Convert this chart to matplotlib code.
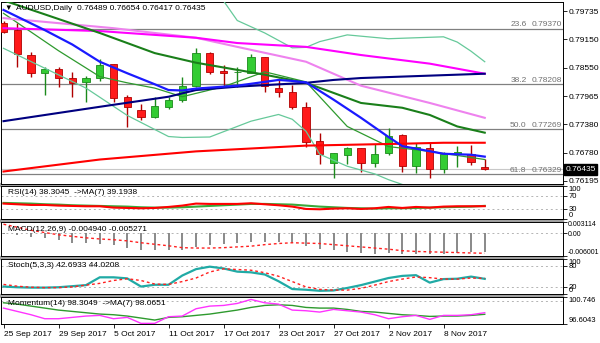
import numpy as np
import matplotlib
matplotlib.use('Agg')
import matplotlib.pyplot as plt
from matplotlib.patches import Rectangle
from matplotlib.transforms import blended_transform_factory

plt.rcParams['font.family'] = ['Liberation Sans', 'DejaVu Sans']

# daily candles, 25 Sep 2017 .. 13 Nov 2017
dates = ['25 Sep 2017', '29 Sep 2017', '5 Oct 2017', '11 Oct 2017', '17 Oct 2017',
         '23 Oct 2017', '27 Oct 2017', '2 Nov 2017', '8 Nov 2017']
opens = [0.79489, 0.79343, 0.78823, 0.78449, 0.78532, 0.78345, 0.78262, 0.78345, 0.78636, 0.77950,
         0.77679, 0.77534, 0.77742, 0.77887, 0.78179, 0.78865, 0.78491, 0.78459, 0.78449, 0.78782,
         0.78137, 0.78054, 0.77742, 0.77034, 0.76577, 0.76743, 0.76889, 0.76577, 0.76785, 0.77159,
         0.76514, 0.76889, 0.76452, 0.76764, 0.76764, 0.76489]
highs = [0.79531, 0.79489, 0.78886, 0.78574, 0.78574, 0.78470, 0.78387, 0.78740, 0.78636, 0.77991,
         0.77804, 0.77950, 0.77950, 0.78366, 0.78969, 0.78886, 0.78615, 0.78574, 0.78844, 0.78782,
         0.78345, 0.78199, 0.77846, 0.77201, 0.76785, 0.76909, 0.76889, 0.76972, 0.77305, 0.77180,
         0.76993, 0.77013, 0.76805, 0.76930, 0.76951, 0.76654]
lows = [0.79281, 0.78574, 0.78366, 0.77991, 0.78158, 0.77950, 0.77846, 0.78283, 0.77846, 0.77326,
        0.77471, 0.77513, 0.77700, 0.77846, 0.78158, 0.78428, 0.78158, 0.78158, 0.78449, 0.78054,
        0.77950, 0.77700, 0.76909, 0.76556, 0.76264, 0.76556, 0.76389, 0.76493, 0.76743, 0.76389,
        0.76368, 0.76264, 0.76368, 0.76493, 0.76535, 0.76417]
closes = [0.79302, 0.78844, 0.78449, 0.78532, 0.78345, 0.78241, 0.78345, 0.78615, 0.77929, 0.77742,
          0.77534, 0.77763, 0.77887, 0.78179, 0.78865, 0.78470, 0.78449, 0.78470, 0.78782, 0.78179,
          0.78054, 0.77742, 0.77013, 0.76764, 0.76785, 0.76889, 0.76577, 0.76764, 0.77138, 0.76514,
          0.76909, 0.76452, 0.76764, 0.76805, 0.76597, 0.76435]

# moving averages / bands read at some bars
blue_bars = [0, 3, 5, 7, 9, 11, 12, 13, 14, 17, 19, 20, 21, 22, 24, 26, 28, 29, 32, 34, 35]
blue_vals = [0.7976, 0.7934, 0.7904, 0.7868, 0.7844, 0.7821, 0.7809, 0.7808, 0.7812, 0.7818, 0.7826,
             0.7830, 0.7828, 0.7825, 0.7789, 0.7751, 0.7711, 0.7692, 0.7676, 0.7674, 0.7670]
navy_bars = [0, 7, 12, 14, 17, 22, 24, 26, 29, 35]
navy_vals = [0.7744, 0.7774, 0.7795, 0.7809, 0.7816, 0.7824, 0.7830, 0.7834, 0.7837, 0.7843]
magenta_bars = [0, 7, 14, 17, 22, 26, 31, 35]
magenta_vals = [0.7938, 0.7932, 0.7918, 0.7907, 0.7899, 0.7882, 0.7864, 0.7843]
pink_bars = [0, 8, 14, 17, 22, 26, 31, 35]
pink_vals = [0.7959, 0.7938, 0.7918, 0.7899, 0.7868, 0.7818, 0.7782, 0.7751]
dgreen_bars = [0, 7, 11, 14, 19, 22, 24, 26, 29, 31, 33, 35]
dgreen_vals = [0.7996, 0.7928, 0.7886, 0.7866, 0.7841, 0.7824, 0.7803, 0.7782, 0.7772, 0.7757, 0.7733, 0.7720]
green_bars = [0, 4, 7, 9, 11, 13, 16, 19, 22, 25, 28, 31, 35]
green_vals = [0.7969, 0.7891, 0.7837, 0.7824, 0.7813, 0.7795, 0.7816, 0.7847, 0.7826, 0.7733, 0.7691, 0.7681, 0.7664]
bbup_bars = [16, 17, 19, 21, 22, 23, 25, 28, 32, 33, 34, 35]
bbup_vals = [0.7995, 0.7954, 0.7928, 0.7897, 0.7898, 0.7910, 0.7924, 0.7916, 0.7920, 0.7909, 0.7890, 0.7868]
bblo_bars = [0, 6, 9, 12, 13, 15, 18, 20, 21, 22, 23, 25, 27, 28, 29]
bblo_vals = [0.7896, 0.7813, 0.7756, 0.7712, 0.7710, 0.7711, 0.7744, 0.7758, 0.7748, 0.7723, 0.7675,
             0.7650, 0.7634, 0.7622, 0.7612]
red_bars = [0, 7, 14, 22, 29, 32, 35]
red_vals = [0.7639, 0.7664, 0.7681, 0.7693, 0.7697, 0.7699, 0.7699]

fib_levels = [0.79370, 0.78208, 0.77269, 0.76329]
fib_names = ['23.6', '38.2', '50.0', '61.8']
price_ticks = [0.79735, 0.79150, 0.78550, 0.77965, 0.77380, 0.76780, 0.76195]
bid = 0.76435

rsi = [46, 44, 42, 42, 40, 39, 38, 38, 34, 33, 32, 33, 36, 40, 46, 45, 45, 45, 47, 44,
       41, 37, 30, 29, 31, 32, 30, 32, 36, 33, 36, 34, 37, 38, 38, 38.3045]
rsi_ma = [48, 47, 46, 44, 43, 41, 40, 39, 38, 37, 35, 34, 34, 35, 37, 39, 41, 43, 45, 45,
          44, 43, 40, 37, 35, 33, 32, 31, 32, 32, 33, 34, 35, 36, 37, 39.1938]
macd = [-0.0002, -0.0005, -0.0009, -0.0012, -0.0019, -0.0025, -0.0025, -0.0028, -0.0030, -0.0038,
        -0.0043, -0.0045, -0.0043, -0.0043, -0.0035, -0.0030, -0.0028, -0.0025, -0.0022, -0.0022,
        -0.0024, -0.0026, -0.0033, -0.0042, -0.0045, -0.0050, -0.0052, -0.0054, -0.0052, -0.0054,
        -0.0054, -0.0054, -0.0054, -0.0051, -0.0050, -0.004940]
macd_sig = [0.0024, 0.0016, 0.0008, 0.0002, -0.0004, -0.0008, -0.0012, -0.0015, -0.0017, -0.0020,
            -0.0025, -0.0029, -0.0033, -0.0038, -0.0039, -0.0039, -0.0038, -0.0036, -0.0034, -0.0030,
            -0.0027, -0.0025, -0.0026, -0.0027, -0.0030, -0.0033, -0.0036, -0.0039, -0.0042, -0.0046,
            -0.0048, -0.0049, -0.0050, -0.0051, -0.0052, -0.005271]
stoch = [21, 19, 18, 18, 19, 22, 25, 47, 47, 44, 21, 26, 26, 52, 70, 77, 72, 63, 61, 55,
         36, 14, 12, 9, 10, 17, 25, 35, 45, 51, 53, 32, 42, 43, 49, 42.6933]
stoch_sig = [27, 22, 19, 18, 18, 20, 25, 30, 38, 43, 38, 28, 27, 35, 45, 62, 71, 69, 67, 60,
             50, 35, 20, 13, 11, 11, 16, 25, 35, 42, 48, 46, 42, 42, 45, 44.0208]
mom = [99.0, 98.5, 98.0, 97.4, 97.4, 97.6, 97.8, 97.9, 97.4, 97.6, 96.7, 96.7, 97.7, 97.8, 98.9,
       99.3, 99.4, 99.7, 100.3, 99.8, 99.6, 98.7, 98.6, 98.4, 98.8, 98.6, 98.4, 98.0, 97.4, 97.7,
       97.9, 97.3, 97.9, 97.9, 98.0, 98.3049]
mom_ma = [99.8, 99.6, 99.3, 99.0, 98.7, 98.5, 98.3, 98.1, 98.0, 97.8, 97.5, 97.2, 97.6, 97.7, 97.9,
          98.1, 98.4, 98.7, 99.1, 99.4, 99.5, 99.4, 99.1, 99.0, 99.0, 98.8, 98.5, 98.4, 98.2, 98.0,
          97.9, 97.75, 97.8, 97.8, 97.9, 98.0651]

W, H = 600, 343
fig = plt.figure(figsize=(6, 3.43), dpi=100)
LEFT, RIGHT = 1, 563
XMIN, XMAX = (LEFT - 3.5) / 13.75, (RIGHT - 3.5) / 13.75


def panel(top, bottom, size=6):
    ax = fig.add_axes([LEFT / W, 1 - bottom / H, (RIGHT - LEFT) / W, (bottom - top) / H])
    ax.set_xlim(XMIN, XMAX)
    ax.set_xticks([])
    ax.yaxis.tick_right()
    ax.tick_params(axis='y', length=3, width=0.6, labelsize=size, pad=1)
    for s in ax.spines.values():
        s.set_linewidth(0.7)
    return ax


def edge_labels_inside(a):
    # first (top) and last (bottom) scale labels sit inside the window
    labs = a.get_yticklabels()
    labs[0].set_va('top')
    labs[-1].set_va('bottom')


# gray separators between the windows
for y0, y1 in [(183, 185.5), (219, 221.5), (256, 258.5), (294, 296.5)]:
    fig.add_artist(Rectangle((0, 1 - y1 / H), RIGHT / W, (y1 - y0) / H,
                             transform=fig.transFigure, color='#a0a0a0', zorder=-1))

# ---- main price window
ax = panel(2, 183.5)
ax.set_ylim(0.76140, 0.79926)
x = np.arange(len(opens))
o, h, l, c = map(np.array, (opens, highs, lows, closes))
up = c >= o
fill = np.where(up, '#33cc33', '#ff1a1a')
edge = np.where(up, '#1b8a1b', '#b00000')
ax.vlines(x, l, h, colors=edge, lw=1, zorder=2)
ax.bar(x, np.maximum(np.abs(c - o), 0.00004), bottom=np.minimum(o, c), width=0.52,
       color=fill, edgecolor=edge, linewidth=0.6, zorder=3)

ax.plot(bblo_bars, bblo_vals, color='#66c99a', lw=0.9, zorder=4)
ax.plot(bbup_bars, bbup_vals, color='#66c99a', lw=0.9, zorder=4)
ax.plot(green_bars, green_vals, color='#2e9a2e', lw=0.9, zorder=4)
ax.plot(red_bars, red_vals, color='#ff0000', lw=1.5, zorder=4)
ax.plot(pink_bars, pink_vals, color='#ee82ee', lw=1.5, zorder=4)
ax.plot(magenta_bars, magenta_vals, color='#ff00ff', lw=1.5, zorder=4)
ax.plot(dgreen_bars, dgreen_vals, color='#1a7f1a', lw=1.5, zorder=4)
ax.plot(navy_bars, navy_vals, color='#000080', lw=1.5, zorder=5)
ax.plot(blue_bars, blue_vals, color='#1a1aff', lw=1.6, zorder=5)

trans = blended_transform_factory(ax.transAxes, ax.transData)
for lev, name in zip(fib_levels, fib_names):
    ax.axhline(lev, color='#808080', lw=0.9, zorder=1)
    ax.text(0.998, lev + 0.0001, '%.5f' % lev, transform=trans, ha='right', va='bottom',
            fontsize=6, color='#707070')
    ax.text(0.935, lev + 0.0001, name, transform=trans, ha='right', va='bottom',
            fontsize=6, color='#707070')
ax.axhline(bid, color='#c8c8c8', lw=0.8, zorder=1)
ax.set_yticks(price_ticks)
ax.set_yticklabels(['%.5f' % t for t in price_ticks])
ax.text(1.004, bid, '%.5f' % bid, transform=trans, ha='left', va='center', fontsize=6,
        color='white', bbox=dict(boxstyle='square,pad=0.2', fc='black', ec='black'), clip_on=False)
fig.text(4 / W, 1 - 8 / H, '\u25bc', fontsize=5.5, va='center', ha='left')
fig.text(16 / W, 1 - 8 / H, 'AUDUSD,Daily  0.76489 0.76654 0.76417 0.76435', fontsize=6,
         va='center', ha='left')

dot = dict(color='#b4b4b4', lw=0.7, ls=(0, (2, 3)))

# ---- RSI
ax_rsi = panel(185.5, 219, 5.5)
ax_rsi.set_ylim(0, 100)
for lev in (70, 30):
    ax_rsi.axhline(lev, **dot)
ax_rsi.plot(x, rsi_ma, color='#3aa83a', lw=1.5)
ax_rsi.plot(x, rsi, color='#ff0000', lw=1.5)
ax_rsi.set_yticks([100, 70, 30, 0])
edge_labels_inside(ax_rsi)
ax_rsi.text(0.012, 0.78, 'RSI(14) 38.3045  ->MA(7) 39.1938', transform=ax_rsi.transAxes,
            fontsize=6, va='center')

# ---- MACD
ax_macd = panel(221.5, 256, 5.0)
ax_macd.tick_params(axis='y', pad=0.5)
ax_macd.set_ylim(-0.006001, 0.003114)
ax_macd.axhline(0, **dot)
ax_macd.vlines(x, 0, macd, colors='#808080', lw=1.3)
ax_macd.plot(x, macd_sig, color='#ff2020', lw=1, ls=(0, (2, 2)))
ax_macd.set_yticks([0.003114, 0.0, -0.006001])
ax_macd.set_yticklabels(['0.003114', '0.00', '-0.006001'])
edge_labels_inside(ax_macd)
ax_macd.text(0.012, 0.76, 'MACD(12,26,9) -0.004940 -0.005271', transform=ax_macd.transAxes,
             fontsize=6, va='center')

# ---- Stochastic
ax_st = panel(258.5, 294, 5.5)
ax_st.set_ylim(0, 100)
for lev in (80, 20):
    ax_st.axhline(lev, **dot)
ax_st.plot(x, stoch, color='#20aaa5', lw=1.6)
ax_st.plot(x, stoch_sig, color='#ff2020', lw=1, ls=(0, (2, 2)))
ax_st.set_yticks([100, 80, 20, 0])
edge_labels_inside(ax_st)
ax_st.text(0.012, 0.8, 'Stoch(5,3,3) 42.6933 44.0208', transform=ax_st.transAxes,
           fontsize=6, va='center')

# ---- Momentum
ax_m = panel(296.5, 324, 5.5)
ax_m.set_ylim(96.6043, 100.746)
ax_m.axhline(100, **dot)
ax_m.plot(x, mom_ma, color='#2e9a2e', lw=1)
ax_m.plot(x, mom, color='#ff33ff', lw=1)
ax_m.set_yticks([100.746, 96.6043])
ax_m.set_yticklabels(['100.746', '96.6043'])
edge_labels_inside(ax_m)
ax_m.text(0.012, 0.75, 'Momentum(14) 98.3049  ->MA(7) 98.0651', transform=ax_m.transAxes,
          fontsize=6, va='center')
ax_m.set_xticks(np.arange(0, 36, 4))
ax_m.set_xticklabels(dates)
ax_m.tick_params(axis='x', length=3, width=0.6, labelsize=6, pad=2)
for lbl in ax_m.get_xticklabels():
    lbl.set_ha('left')

fig.savefig('out.png', dpi=100)
